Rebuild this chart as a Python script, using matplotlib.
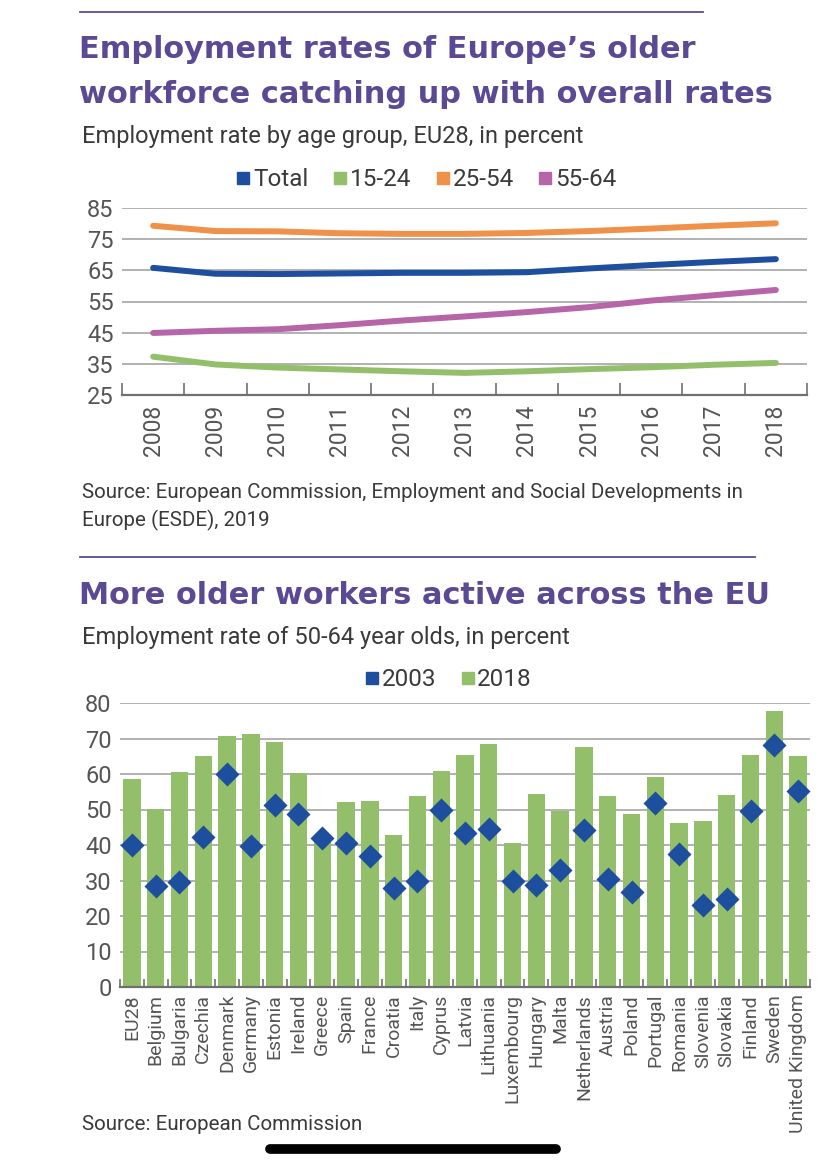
import matplotlib
matplotlib.use("Agg")
import matplotlib.pyplot as plt
from matplotlib.lines import Line2D
import numpy as np

# ---- data: chart 1 ----
years = ["2008", "2009", "2010", "2011", "2012", "2013", "2014", "2015", "2016", "2017", "2018"]
total = [65.8, 63.9, 63.8, 64.0, 64.2, 64.2, 64.4, 65.6, 66.7, 67.7, 68.6]
age_15_24 = [37.3, 34.8, 33.8, 33.2, 32.6, 32.1, 32.6, 33.3, 33.9, 34.7, 35.3]
age_25_54 = [79.3, 77.6, 77.5, 76.9, 76.7, 76.7, 77.0, 77.6, 78.4, 79.3, 80.1]
age_55_64 = [44.9, 45.6, 46.1, 47.4, 48.9, 50.2, 51.6, 53.2, 55.3, 57.0, 58.7]

# ---- data: chart 2 ----
countries = ["EU28", "Belgium", "Bulgaria", "Czechia", "Denmark", "Germany", "Estonia",
             "Ireland", "Greece", "Spain", "France", "Croatia", "Italy", "Cyprus", "Latvia",
             "Lithuania", "Luxembourg", "Hungary", "Malta", "Netherlands", "Austria",
             "Poland", "Portugal", "Romania", "Slovenia", "Slovakia", "Finland", "Sweden",
             "United Kingdom"]
rate_2018 = [58.7, 50.2, 60.7, 65.0, 70.6, 71.4, 68.9, 60.4, 41.0, 52.2, 52.3, 42.7, 53.7,
             60.8, 65.4, 68.5, 40.5, 54.4, 49.7, 67.6, 53.9, 48.8, 59.2, 46.3, 46.9, 54.2,
             65.4, 77.8, 65.2]
rate_2003 = [40.1, 28.5, 29.6, 42.3, 59.9, 39.6, 51.3, 48.6, 42.1, 40.6, 36.8, 27.9, 29.9,
             49.8, 43.4, 44.6, 29.9, 28.6, 32.9, 44.1, 30.4, 26.9, 51.8, 37.6, 23.2, 24.7,
             49.5, 68.3, 55.1]

W, H = 828, 1170
PURPLE = "#5b4a93"
BLUE = "#1d4f9e"
GREEN = "#93bf6b"
ORANGE = "#f0914a"
PINK = "#b565a8"
GRID = "#ababab"
TXT = "#555555"
DARK = "#3a3a3a"
SANS = ["Roboto", "DejaVu Sans"]
TITLE = ["DejaVu Sans"]


def fx(x):
    return x / W


def fy(y):
    return 1 - y / H


def axes_px(fig, left, top, right, bottom):
    return fig.add_axes([fx(left), fy(bottom), (right - left) / W, (bottom - top) / H])


def style_axis(ax, ncat, tick_len):
    # grid lines only, bottom spine with small category separators pointing up
    ax.set_xlim(-0.5, ncat - 0.5)
    ax.yaxis.grid(True, color=GRID, lw=1.3)
    ax.set_axisbelow(True)
    for s in ["top", "right", "left"]:
        ax.spines[s].set_visible(False)
    ax.spines["bottom"].set_color("#6f6f6f")
    ax.spines["bottom"].set_linewidth(1.6)
    ax.set_xticks(np.arange(-0.5, ncat), minor=True)
    ax.tick_params(axis="x", which="major", length=0)
    ax.tick_params(axis="x", which="minor", direction="in", length=tick_len,
                   color="#6f6f6f", width=1.2)
    ax.tick_params(axis="y", length=0, labelsize=17, labelcolor=TXT, pad=6)
    for t in ax.get_yticklabels():
        t.set_family(SANS)


fig = plt.figure(figsize=(W / 100, H / 100), dpi=100)
fig.patch.set_facecolor("white")

# ---- header chart 1 ----
fig.add_artist(Line2D([fx(80), fx(703)], [fy(12), fy(12)], color=PURPLE, lw=1.3))
fig.text(fx(79), fy(58), "Employment rates of Europe’s older", fontsize=21.9,
         fontweight="bold", family=TITLE, color=PURPLE, va="baseline")
fig.text(fx(79), fy(103), "workforce catching up with overall rates", fontsize=21.9,
         fontweight="bold", family=TITLE, color=PURPLE, va="baseline")
fig.text(fx(82), fy(143), "Employment rate by age group, EU28, in percent", fontsize=17,
         family=SANS, color=DARK, va="baseline")

# ---- chart 1 ----
ax1 = axes_px(fig, 122, 208, 807, 395)
x = np.arange(len(years))
series = [(total, BLUE, "Total"), (age_15_24, GREEN, "15-24"),
          (age_25_54, ORANGE, "25-54"), (age_55_64, PINK, "55-64")]
handles = []
for vals, col, lab in series:
    ax1.plot(x, vals, color=col, lw=4.3, solid_capstyle="round")
    handles.append(Line2D([], [], marker="s", ls="none", color=col, markersize=8, label=lab))
ax1.set_ylim(25, 85)
ax1.set_yticks(range(25, 86, 10))
style_axis(ax1, len(years), 9)
ax1.set_xticks(x)
ax1.set_xticklabels(years, rotation=90, fontsize=16.5, family=SANS, color=TXT)
ax1.tick_params(axis="x", which="major", pad=7)
fig.legend(handles=handles, loc="center", bbox_to_anchor=(fx(425), fy(180)), ncol=4,
           frameon=False, handletextpad=0.0, columnspacing=0.9, handlelength=0.8,
           prop={"family": SANS, "size": 17.5}, labelcolor=DARK)

fig.text(fx(82), fy(498), "Source: European Commission, Employment and Social Developments in",
         fontsize=14.8, family=SANS, color=DARK, va="baseline")
fig.text(fx(82), fy(526), "Europe (ESDE), 2019", fontsize=14.8, family=SANS,
         color=DARK, va="baseline")

# ---- header chart 2 ----
fig.add_artist(Line2D([fx(80), fx(755)], [fy(557), fy(557)], color=PURPLE, lw=1.3))
fig.text(fx(79), fy(604), "More older workers active across the EU", fontsize=21.9,
         fontweight="bold", family=TITLE, color=PURPLE, va="baseline")
fig.text(fx(82), fy(644), "Employment rate of 50-64 year olds, in percent", fontsize=17,
         family=SANS, color=DARK, va="baseline")

# ---- chart 2 ----
ax2 = axes_px(fig, 120, 703, 810, 987)
xc = np.arange(len(countries))
ax2.bar(xc, rate_2018, width=0.73, color=GREEN, zorder=2)
ax2.scatter(xc, rate_2003, marker="D", s=150, color=BLUE, zorder=3, linewidths=0)
ax2.set_ylim(0, 80)
ax2.set_yticks(range(0, 81, 10))
style_axis(ax2, len(countries), 6)
ax2.set_xticks(xc)
ax2.set_xticklabels(countries, rotation=90, fontsize=14, family=SANS, color=TXT)
ax2.tick_params(axis="x", which="major", pad=5)
h2 = [Line2D([], [], marker="s", ls="none", color=BLUE, markersize=8, label="2003"),
      Line2D([], [], marker="s", ls="none", color=GREEN, markersize=8, label="2018")]
fig.legend(handles=h2, loc="center", bbox_to_anchor=(fx(447), fy(680)), ncol=2,
           frameon=False, handletextpad=0.0, columnspacing=0.9, handlelength=0.8,
           prop={"family": SANS, "size": 17.5}, labelcolor=DARK)

fig.text(fx(82), fy(1130), "Source: European Commission", fontsize=14.8, family=SANS,
         color=DARK, va="baseline")

# phone home indicator from the screenshot
fig.add_artist(Line2D([fx(270), fx(556)], [fy(1149), fy(1149)], color="black", lw=7,
                      solid_capstyle="round"))

fig.savefig("out.png", dpi=100, facecolor="white")
